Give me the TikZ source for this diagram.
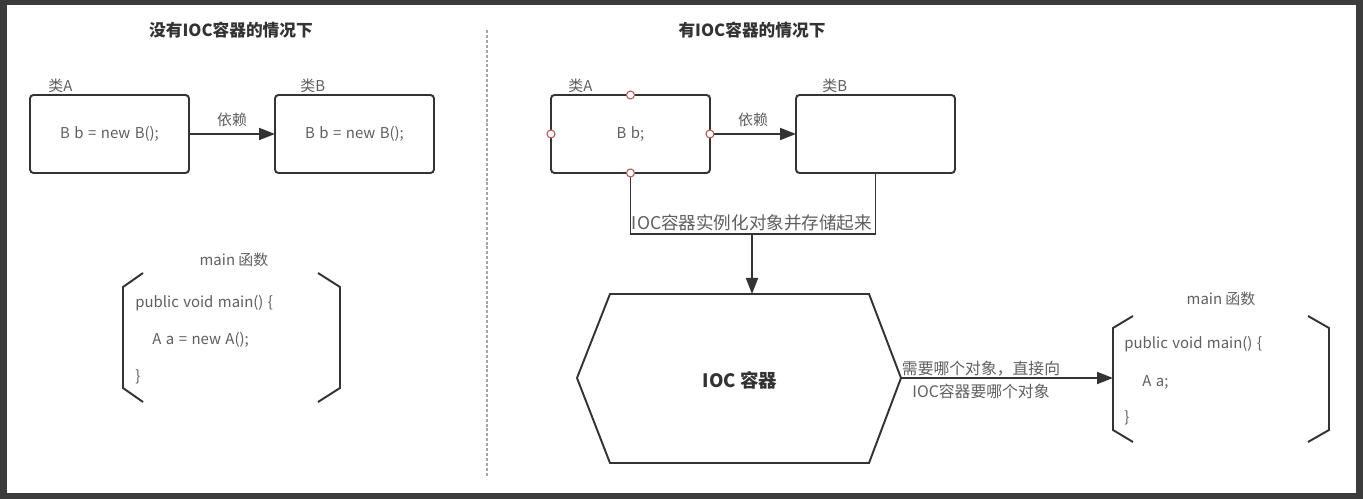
\documentclass[tikz,border=0pt]{standalone}
\usepackage{fontspec}
\usepackage{tikz}
\usetikzlibrary{arrows.meta,positioning}
\setmainfont{Noto Sans CJK SC}
\definecolor{framegray}{RGB}{60,60,60}
\definecolor{linegray}{RGB}{51,51,51}
\definecolor{textgray}{RGB}{95,95,95}
\definecolor{pinred}{RGB}{184,84,80}
\newcommand{\codespacing}{\spaceskip=0.3em\relax}
\tikzset{
  classbox/.style={draw=linegray, line width=1.1pt, rounded corners=2pt, minimum width=3.18cm, minimum height=1.56cm,
    text=textgray, font=\fontsize{8.5}{10}\selectfont, execute at begin node=\codespacing, inner sep=0pt, outer sep=0pt},
  tag/.style={text=textgray, font=\fontsize{8.5}{10}\selectfont, inner sep=0pt},
  codeline/.style={tag, anchor=west, execute at begin node=\codespacing},
  heading/.style={text=linegray, font=\fontsize{9.5}{11}\selectfont\bfseries, inner sep=0pt},
  flow/.style={draw=linegray, line width=1.1pt, -{Triangle[length=0.32cm,width=0.24cm]}},
  wire/.style={draw=linegray, line width=1.1pt},
  pin/.style={circle, draw=pinred, fill=white, line width=0.6pt, minimum size=0.16cm, inner sep=0pt},
}

\begin{document}
\begin{tikzpicture}[x=0.02cm, y=-0.02cm]
      % frame of the screenshot
      \fill[framegray] (0,0) rectangle (1363,499);
      \fill[white] (7,5) rectangle (1356,493);

      % titles
      \node[heading] (titleL) at (231,30) {没有IOC容器的情况下};
      \node[heading] (titleR) at (752,30) {有IOC容器的情况下};

      % separator
      \draw[draw=gray!70, line width=1pt, dash pattern=on 1.7pt off 1.1pt] (487,30) -- (487,477);

      % left side: classes
      \node[tag, anchor=west] (lblA1) at (48,86) {类A};
      \node[tag, anchor=west] (lblB1) at (300,86) {类B};
      \node[classbox] (a1) at (109.5,134) {B b = new B();};
      \node[classbox] (b1) at (354.5,134) {B b = new B();};
      \draw[flow] (a1) -- node[tag, above=0.13cm] (dep1) {依赖} (b1);

      % left side: main function
      \node[tag] (mainL) at (234,260) {main 函数};
      \draw[wire] (143,273) -- (123,287) -- (123,388) -- (143,402);
      \draw[wire] (318,273) -- (340,287) -- (340,388) -- (318,402);
      \node[codeline] (codeL1) at (135,303) {public void main() \{};
      \node[codeline] (codeL2) at (152,340) {A a = new A();};
      \node[codeline] (codeL3) at (135,377) {\}};

      % right side: classes
      \node[tag, anchor=west] (lblA2) at (568,86) {类A};
      \node[tag, anchor=west] (lblB2) at (822,86) {类B};
      \node[classbox] (a2) at (630.5,134) {B b;};
      \node[classbox] (b2) at (875.5,134) {};
      \draw[flow] (a2) -- node[tag, above=0.13cm] (dep2) {依赖} (b2);

      % IOC container
      \draw[wire] (610,294) -- (869,294) -- (901,378) -- (869,463) -- (610,463) -- (577,378) -- cycle;
      \node[text=linegray, font=\fontsize{10.5}{12}\selectfont\bfseries] (ioc) at (740,380) {IOC 容器};
      \coordinate (hexT) at (752,294);
      \coordinate (hexR) at (901,378);
      \coordinate (junc) at (752,234);

      \draw[wire] (a2.south) |- (junc) -| (b2.south);
      \node[tag, font=\fontsize{10}{12}\selectfont, above=0.05cm] (store) at (junc) {IOC容器实例化对象并存储起来};
      \draw[flow] (junc) -- (hexT);
      \foreach \side in {north,south,east,west}
        \node[pin] (pin-\side) at (a2.\side) {};

      % right side: main function
      \node[tag] (mainR) at (1221,299) {main 函数};
      \draw[wire] (1133,316) -- (1113,328) -- (1113,430) -- (1133,442);
      \draw[wire] (1308,316) -- (1329,328) -- (1329,430) -- (1308,442);
      \coordinate (mainIn) at (1113,378);
      \node[codeline] (codeR1) at (1124,344) {public void main() \{};
      \node[codeline] (codeR2) at (1142,382) {A a;};
      \node[codeline] (codeR3) at (1124,418) {\}};

      % fetch arrow
      \draw[flow] (hexR) -- (mainIn);
      \node[tag, font=\fontsize{9}{13}\selectfont, align=center] (fetch) at (981,380) {需要哪个对象，直接向\\IOC容器要哪个对象};
    \end{tikzpicture}
\end{document}
